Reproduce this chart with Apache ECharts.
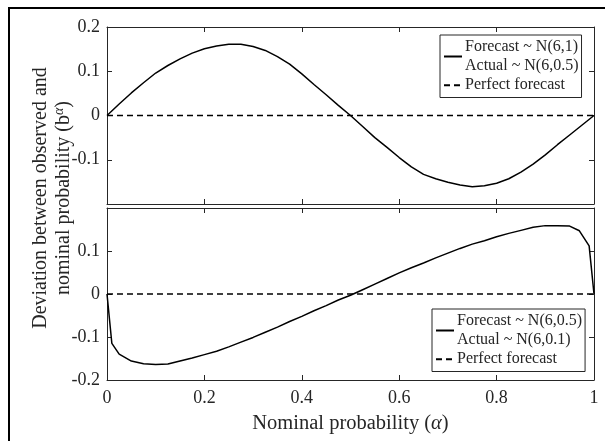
<!DOCTYPE html>
<html>
<head>
<meta charset="utf-8">
<script src="https://cdn.jsdelivr.net/npm/echarts@6/dist/echarts.min.js"></script>
<style>
  html, body { margin: 0; padding: 0; background: #fff; }
  #chart { width: 605px; height: 441px; }
</style>
</head>
<body>
<div id="chart"></div>
<script>
// nominal probability, top panel
const alphaTop = [0, 0.025, 0.05, 0.075, 0.1, 0.125, 0.15, 0.175, 0.2, 0.225, 0.25, 0.275, 0.3, 0.325, 0.35, 0.375, 0.4, 0.425, 0.45, 0.475, 0.5,
  0.525, 0.55, 0.575, 0.6, 0.625, 0.65, 0.675, 0.7, 0.725, 0.75, 0.775, 0.8, 0.825, 0.85, 0.875, 0.9, 0.925, 0.95, 0.975, 1];
// Forecast ~ N(6,1), Actual ~ N(6,0.5)
const devTop = [0, 0.026, 0.051, 0.074, 0.096, 0.113, 0.128, 0.141, 0.151, 0.157, 0.161, 0.161, 0.156, 0.147, 0.133, 0.116, 0.094, 0.070, 0.047, 0.023, 0,
  -0.025, -0.050, -0.072, -0.095, -0.116, -0.133, -0.143, -0.151, -0.157, -0.161, -0.159, -0.153, -0.143, -0.128, -0.110, -0.089, -0.066, -0.044, -0.022, 0];
// nominal probability, bottom panel
const alphaBottom = [0, 0.01, 0.025, 0.05, 0.075, 0.1, 0.125, 0.15, 0.175, 0.2, 0.225, 0.25, 0.275, 0.3, 0.325, 0.35, 0.375, 0.4, 0.425, 0.45, 0.475, 0.5,
  0.525, 0.55, 0.575, 0.6, 0.625, 0.65, 0.675, 0.7, 0.725, 0.75, 0.775, 0.8, 0.825, 0.85, 0.875, 0.9, 0.925, 0.95, 0.97, 0.99, 1];
// Forecast ~ N(6,0.5), Actual ~ N(6,0.1)
const devBottom = [0, -0.115, -0.140, -0.156, -0.162, -0.164, -0.163, -0.156, -0.149, -0.141, -0.133, -0.123, -0.112, -0.101, -0.089, -0.077, -0.064, -0.052, -0.039, -0.027, -0.014, -0.003,
  0.010, 0.023, 0.036, 0.049, 0.061, 0.072, 0.084, 0.095, 0.106, 0.116, 0.124, 0.133, 0.141, 0.148, 0.155, 0.159, 0.159, 0.158, 0.147, 0.112, 0];
const perfectX = [0, 1];
const perfectY = [0, 0];

const nameTop = 'Forecast ~ N(6,1)\nActual ~ N(6,0.5)';
const nameBottom = 'Forecast ~ N(6,0.5)\nActual ~ N(6,0.1)';
const namePerfect = 'Perfect forecast';

const FONT = 'Liberation Serif';
const AXIS_COLOR = '#262626';

const pairs = (xs, ys) => xs.map((x, i) => [x, ys[i]]);

const chart = echarts.init(document.getElementById('chart'));

function xAxis(gridIndex, position, labels) {
  return {
    type: 'value',
    gridIndex: gridIndex,
    position: position,
    min: 0,
    max: 1,
    interval: 0.2,
    axisLine: { show: true, onZero: false, lineStyle: { color: AXIS_COLOR, width: 1 } },
    axisTick: { show: true, inside: true, length: 5, lineStyle: { color: AXIS_COLOR } },
    axisLabel: {
      show: labels,
      color: AXIS_COLOR,
      fontFamily: FONT,
      fontSize: 18,
      margin: 9,
    },
    splitLine: { show: false },
  };
}

function yAxis(gridIndex, position, labels, hide) {
  return {
    type: 'value',
    gridIndex: gridIndex,
    position: position,
    min: -0.2,
    max: 0.2,
    interval: 0.1,
    axisLine: { show: true, onZero: false, lineStyle: { color: AXIS_COLOR, width: 1 } },
    axisTick: { show: true, inside: true, length: 5, lineStyle: { color: AXIS_COLOR } },
    axisLabel: {
      show: labels,
      color: AXIS_COLOR,
      fontFamily: FONT,
      fontSize: 18,
      margin: 7,
      formatter: (v) => {
        const r = Math.round(v * 10) / 10;
        if (r === hide) return '';
        return String(r);
      },
    },
    splitLine: { show: false },
  };
}

function legend(top, left, names) {
  return {
    orient: 'vertical',
    left: left,
    top: top,
    data: names,
    backgroundColor: '#fff',
    borderColor: AXIS_COLOR,
    borderWidth: 1,
    borderRadius: 0,
    padding: [3, 3, 3, 3],
    itemGap: 1,
    itemWidth: 18,
    itemHeight: 10,
    selectedMode: false,
    itemStyle: { color: 'rgba(0,0,0,0)', borderColor: 'rgba(0,0,0,0)', borderWidth: 0 },
    textStyle: {
      color: AXIS_COLOR,
      fontFamily: FONT,
      fontSize: 16,
      lineHeight: 18.5,
      padding: [0, 0, 0, -2],
    },
  };
}

const option = {
  animation: false,
  backgroundColor: '#fff',
  grid: [
    { left: 107, top: 27, width: 487, height: 177 },
    { left: 107, top: 208, width: 487, height: 172 },
  ],
  xAxis: [
    xAxis(0, 'bottom', false),
    xAxis(0, 'top', false),
    Object.assign(xAxis(1, 'bottom', true), {
      name: 'Nominal probability ({i|α})',
      nameLocation: 'middle',
      nameGap: 33,
      nameTextStyle: {
        color: AXIS_COLOR,
        fontFamily: FONT,
        fontSize: 20.5,
        rich: {
          i: { fontFamily: FONT, fontStyle: 'italic', fontSize: 20.5, color: AXIS_COLOR },
        },
      },
    }),
    xAxis(1, 'top', false),
  ],
  yAxis: [
    yAxis(0, 'left', true, -0.2),
    yAxis(0, 'right', false),
    yAxis(1, 'left', true, 0.2),
    yAxis(1, 'right', false),
  ],
  legend: [
    legend(35, 440, [nameTop, namePerfect]),
    legend(309, 432, [nameBottom, namePerfect]),
  ],
  graphic: [
    {
      type: 'rect',
      silent: true,
      shape: { x: 9, y: 8, width: 700, height: 500 },
      style: { fill: 'none', stroke: '#000', lineWidth: 2 },
      z: 100,
    },
    {
      type: 'text',
      silent: true,
      x: 52,
      y: 198,
      rotation: Math.PI / 2,
      style: {
        text: '{n|Deviation between observed and}\n{n|nominal probability (b}{s|α}{n|)}',
        align: 'center',
        verticalAlign: 'middle',
        fill: AXIS_COLOR,
        rich: {
          n: { fontFamily: FONT, fontSize: 20, lineHeight: 23, fill: AXIS_COLOR },
          s: { fontFamily: FONT, fontSize: 14, fontStyle: 'italic', lineHeight: 23, verticalAlign: 'top', fill: AXIS_COLOR },
        },
      },
    },
  ],
  series: [
    {
      name: nameTop,
      type: 'line',
      xAxisIndex: 0,
      yAxisIndex: 0,
      showSymbol: false,
      symbol: 'none',
      lineStyle: { color: '#000', width: 1.5 },
      itemStyle: { color: '#000' },
      data: pairs(alphaTop, devTop),
      z: 3,
    },
    {
      name: namePerfect,
      type: 'line',
      xAxisIndex: 0,
      yAxisIndex: 0,
      showSymbol: false,
      symbol: 'none',
      lineStyle: { color: '#000', width: 1.5, type: [6, 4] },
      itemStyle: { color: '#000' },
      data: pairs(perfectX, perfectY),
    },
    {
      name: nameBottom,
      type: 'line',
      xAxisIndex: 2,
      yAxisIndex: 2,
      showSymbol: false,
      symbol: 'none',
      lineStyle: { color: '#000', width: 1.5 },
      itemStyle: { color: '#000' },
      data: pairs(alphaBottom, devBottom),
      z: 3,
    },
    {
      name: namePerfect,
      type: 'line',
      xAxisIndex: 2,
      yAxisIndex: 2,
      showSymbol: false,
      symbol: 'none',
      lineStyle: { color: '#000', width: 1.5, type: [6, 4] },
      itemStyle: { color: '#000' },
      data: pairs(perfectX, perfectY),
    },
  ],
};

chart.setOption(option);
</script>
</body>
</html>
